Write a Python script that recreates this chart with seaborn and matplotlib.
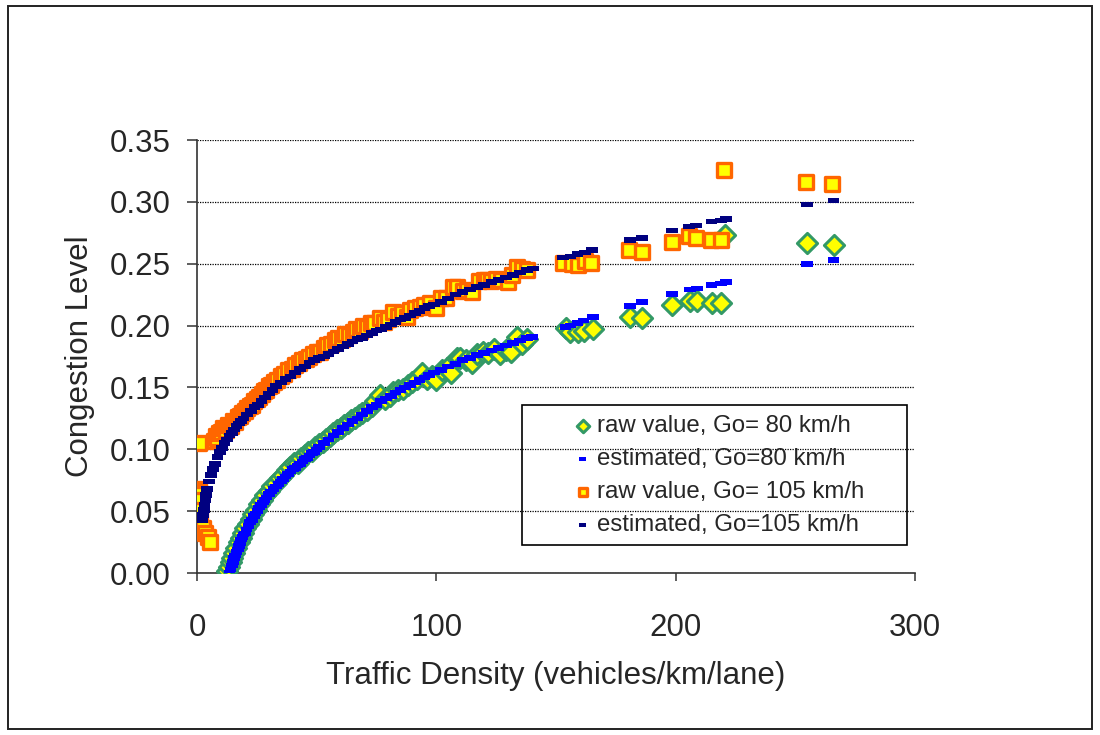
import matplotlib
matplotlib.use("Agg")
import matplotlib.pyplot as plt
from matplotlib.patches import Rectangle
import seaborn as sns

# Go = 80 km/h, raw values
raw80_x = [12.5, 13.2, 14.0, 14.8, 15.6, 16.5, 17.4, 18.3, 19.2, 20.2, 21.3, 22.4,
           23.6, 24.8, 26.0, 27.3, 28.6, 30.0, 31.5, 33.0, 34.5, 36.0, 37.5, 39.0,
           40.5, 42.0, 43.5, 45.0, 46.5, 48.0, 49.5, 51.0, 52.5, 54.0, 55.5, 57.0,
           58.5, 60.0, 61.5, 63.0, 64.5, 66.0, 67.5, 69.0, 71.0, 73.0, 74.5, 76.5,
           78.5, 80.5, 82.0, 84.0, 86.0, 88.0, 90.0, 92.0, 94.0, 96.0, 98.0, 100.0,
           102.5, 104.5, 106.0, 108.5, 110.0, 112.5, 115.0, 117.0, 119.5, 121.6, 124.0,
           126.6, 129.0, 131.0, 133.6, 136.0, 138.0,
           154.0, 156.0, 159.0, 161.5, 165.5, 181.0, 186.0, 198.5, 206.0, 209.0,
           215.0, 219.0, 220.6, 255.0, 266.0]
raw80_y = [0.002, 0.005, 0.009, 0.012, 0.016, 0.020, 0.025, 0.028, 0.032, 0.036, 0.040, 0.044,
           0.048, 0.051, 0.056, 0.059, 0.063, 0.066, 0.070, 0.073, 0.077, 0.079, 0.083, 0.086,
           0.089, 0.089, 0.093, 0.095, 0.098, 0.099, 0.102, 0.104, 0.106, 0.108, 0.111, 0.113,
           0.116, 0.117, 0.120, 0.121, 0.124, 0.125, 0.128, 0.129, 0.132, 0.135, 0.139, 0.144,
           0.141, 0.143, 0.146, 0.148, 0.149, 0.152, 0.154, 0.157, 0.162, 0.157, 0.159, 0.156,
           0.164, 0.166, 0.162, 0.174, 0.174, 0.172, 0.170, 0.177, 0.179, 0.178, 0.181,
           0.177, 0.180, 0.179, 0.191, 0.185, 0.189,
           0.198, 0.195, 0.195, 0.196, 0.197, 0.207, 0.206, 0.2165, 0.220, 0.220,
           0.218, 0.218, 0.273, 0.267, 0.265]

# Go = 80 km/h, estimated
est80_x = [13.5, 14.0, 14.5, 15.0, 15.5, 16.0, 16.5, 17.0, 17.5, 18.0, 18.5, 19.0,
           19.5, 20.0, 20.7, 21.5, 22.2, 23.0, 23.7, 24.5, 25.2, 26.0, 26.7, 27.5,
           28.2, 29.0, 30.0, 31.0, 32.0, 33.0, 34.0, 35.0, 36.0, 37.0, 38.0, 39.0,
           40.0, 41.0, 42.0, 43.0, 44.0, 45.0, 46.0, 47.0, 48.0, 49.0, 50.0, 51.0,
           53.0, 55.0, 57.0, 59.0, 61.0, 63.0, 65.0, 67.0, 69.0, 71.0, 73.0, 75.0,
           77.0, 79.0, 81.0, 83.0, 85.0, 87.0, 89.0, 91.0, 93.0, 95.0, 97.0, 99.0,
           102.0, 105.0, 108.0, 111.0, 114.0, 117.0, 120.0, 123.0, 126.0, 129.0,
           132.0, 135.0, 138.0, 140.0,
           154.0, 156.0, 159.0, 161.5, 165.5, 181.0, 186.0, 198.5, 206.0, 209.0,
           215.0, 219.0, 221.0, 255.0, 266.0]
est80_y = [0.000, 0.003, 0.006, 0.009, 0.012, 0.014, 0.017, 0.019, 0.022, 0.024, 0.027, 0.029,
           0.031, 0.032, 0.035, 0.038, 0.041, 0.043, 0.046, 0.048, 0.050, 0.053, 0.055, 0.057,
           0.059, 0.061, 0.064, 0.066, 0.068, 0.070, 0.072, 0.074, 0.076, 0.078, 0.080, 0.082,
           0.084, 0.085, 0.087, 0.088, 0.090, 0.092, 0.093, 0.095, 0.097, 0.098, 0.100, 0.102,
           0.105, 0.108, 0.111, 0.114, 0.117, 0.120, 0.123, 0.125, 0.128, 0.131, 0.134, 0.136,
           0.139, 0.141, 0.143, 0.146, 0.148, 0.150, 0.152, 0.154, 0.156, 0.158, 0.160, 0.162,
           0.164, 0.167, 0.169, 0.172, 0.174, 0.176, 0.178, 0.180, 0.182, 0.184,
           0.186, 0.188, 0.190, 0.191,
           0.199, 0.200, 0.202, 0.204, 0.207, 0.216, 0.219, 0.2255, 0.229, 0.230,
           0.233, 0.234, 0.235, 0.250, 0.253]

# Go = 105 km/h, raw values
raw105_x = [0.7, 0.4, 1.0, 1.5, 0.8, 1.0, 1.3, 2.5, 3.3, 4.5, 5.6,
            7.0, 7.8, 8.5, 9.3, 10.0, 11.0, 12.0, 13.0, 14.0, 15.0, 16.0, 17.0,
            18.0, 19.0, 20.0, 21.0, 22.0, 23.0, 24.0, 25.0, 26.0, 27.0, 28.0, 29.0,
            30.0, 31.0, 32.0, 33.5, 35.0, 36.5, 38.0, 39.5, 41.0, 42.5, 44.0, 45.5,
            47.0, 48.5, 50.0, 51.5, 53.0, 54.5, 56.0, 57.5, 59.0, 60.5, 62.0, 63.5,
            65.0, 66.5, 68.0, 69.5, 71.0, 72.5, 74.0, 76.5, 78.0, 80.0, 82.0, 84.0,
            85.5, 87.7, 89.0, 91.0, 93.0, 95.0, 97.4, 100.0, 102.0, 104.0, 107.0, 108.5,
            111.0, 113.0, 115.0, 118.0, 120.0, 121.0, 123.0, 125.0, 127.0, 130.0, 131.5,
            133.6, 136.0, 138.0,
            153.0, 156.5, 159.0, 162.0, 164.7, 180.6, 186.0, 198.5, 205.6, 208.5,
            214.8, 219.0, 220.0, 254.6, 265.5]
raw105_y = [0.105, 0.068, 0.066, 0.064, 0.059, 0.051, 0.043, 0.036, 0.032, 0.029, 0.025,
            0.107, 0.111, 0.109, 0.113, 0.114, 0.117, 0.116, 0.120, 0.119, 0.123, 0.122, 0.126,
            0.127, 0.129, 0.131, 0.133, 0.135, 0.136, 0.139, 0.141, 0.142, 0.145, 0.147, 0.148,
            0.151, 0.152, 0.154, 0.156, 0.159, 0.161, 0.164, 0.165, 0.168, 0.170, 0.172, 0.173,
            0.175, 0.177, 0.179, 0.179, 0.182, 0.184, 0.185, 0.188, 0.190, 0.189, 0.193, 0.192,
            0.195, 0.197, 0.196, 0.200, 0.199, 0.202, 0.202, 0.206, 0.203, 0.205, 0.211, 0.208,
            0.210, 0.207, 0.213, 0.214, 0.215, 0.217, 0.218, 0.214, 0.222, 0.222, 0.231, 0.231,
            0.228, 0.229, 0.227, 0.236, 0.237, 0.237, 0.236, 0.238, 0.237, 0.235, 0.241,
            0.247, 0.246, 0.245,
            0.2505, 0.250, 0.249, 0.252, 0.2505, 0.261, 0.2595, 0.2675, 0.2725, 0.271,
            0.269, 0.269, 0.326, 0.316, 0.3145]

# Go = 105 km/h, estimated
est105_x = [2.3, 2.6, 2.9, 3.2, 3.5, 3.8, 4.3, 5.0, 5.8, 6.6, 7.5, 8.5,
            9.5, 10.5, 11.5, 12.5, 13.5, 14.5, 15.5, 16.5, 17.5, 18.5, 19.5, 21.0,
            22.5, 24.0, 25.5, 27.0, 28.5, 30.0, 31.5, 33.0, 35.0, 37.0, 39.0, 41.0,
            43.0, 45.0, 47.0, 49.0, 51.0, 53.0, 55.0, 57.0, 59.0, 61.0, 63.0, 65.0,
            67.0, 69.0, 71.0, 73.0, 75.0, 77.0, 79.0, 81.0, 83.0, 85.0, 87.0, 89.0,
            91.0, 93.0, 95.0, 97.0, 99.0, 102.0, 105.0, 108.0, 111.0, 114.0, 117.0,
            120.0, 123.0, 126.0, 129.0, 132.0, 135.0, 138.0, 140.5,
            153.0, 156.0, 159.0, 162.0, 165.0, 181.0, 186.0, 198.5, 205.6, 208.5,
            215.0, 219.0, 221.0, 255.0, 266.0]
est105_y = [0.043, 0.047, 0.051, 0.055, 0.059, 0.063, 0.068, 0.074, 0.079, 0.084, 0.088, 0.094,
            0.098, 0.101, 0.105, 0.108, 0.111, 0.113, 0.116, 0.119, 0.121, 0.123, 0.125, 0.128,
            0.131, 0.134, 0.136, 0.139, 0.142, 0.145, 0.148, 0.151, 0.154, 0.157, 0.159, 0.162,
            0.165, 0.167, 0.170, 0.172, 0.174, 0.175, 0.177, 0.179, 0.181, 0.183, 0.185, 0.187,
            0.189, 0.190, 0.192, 0.194, 0.196, 0.197, 0.199, 0.201, 0.203, 0.205, 0.206, 0.208,
            0.210, 0.212, 0.214, 0.216, 0.217, 0.219, 0.222, 0.225, 0.227, 0.229, 0.231,
            0.233, 0.235, 0.237, 0.239, 0.241, 0.243, 0.245, 0.246,
            0.255, 0.256, 0.258, 0.259, 0.261, 0.269, 0.271, 0.277, 0.280, 0.281,
            0.284, 0.285, 0.286, 0.298, 0.301]

labels = ["raw value, Go= 80 km/h", "estimated, Go=80 km/h",
          "raw value, Go= 105 km/h", "estimated, Go=105 km/h"]

sns.set_style("ticks")
plt.rcParams["font.family"] = ["Liberation Sans", "DejaVu Sans"]

fig = plt.figure(figsize=(11, 7.35), dpi=100)
ax = fig.add_axes([0.1791, 0.2204, 0.6527, 0.5891])

# short horizontal bar used by Excel for the estimated series
dash = [(-1, -0.48), (1, -0.48), (1, 0.48), (-1, 0.48)]

sns.scatterplot(x=raw80_x, y=raw80_y, marker="D", s=105, color="#FFFF00",
                edgecolor="#339966", linewidth=2.2, ax=ax, label=labels[0], zorder=3)
sns.scatterplot(x=est80_x, y=est80_y, marker=dash, s=70, color="#0000FF",
                edgecolor="none", linewidth=0, ax=ax, label=labels[1], zorder=4)
sns.scatterplot(x=raw105_x, y=raw105_y, marker="s", s=95, color="#FFFF00",
                edgecolor="#FF6600", linewidth=2.4, ax=ax, label=labels[2], zorder=5)
sns.scatterplot(x=est105_x, y=est105_y, marker=dash, s=70, color="#000080",
                edgecolor="none", linewidth=0, ax=ax, label=labels[3], zorder=6)

ax.set_xlim(0, 300)
ax.set_ylim(0, 0.35)
ax.set_xticks([0, 100, 200, 300])
ax.set_yticks([0, 0.05, 0.10, 0.15, 0.20, 0.25, 0.30, 0.35])
ax.set_yticklabels([f"{v:.2f}" for v in ax.get_yticks()])
ax.grid(axis="y", color="black", linestyle=(0, (1, 1)), linewidth=0.9)
ax.set_axisbelow(True)

for side in ["top", "right"]:
    ax.spines[side].set_visible(False)
for side in ["left", "bottom"]:
    ax.spines[side].set_color("#333333")
    ax.spines[side].set_linewidth(1.2)

ax.tick_params(axis="y", direction="out", length=7, width=1.1, color="#333333",
               pad=12, labelsize=22.5)
ax.tick_params(axis="x", direction="out", length=6, width=1.1, color="#333333",
               pad=23, labelsize=22.5)

ax.set_xlabel("Traffic Density (vehicles/km/lane)", fontsize=22.5)
ax.set_ylabel("Congestion Level", fontsize=22.5)
ax.xaxis.set_label_coords(0.5, -0.2035)
ax.yaxis.set_label_coords(-0.142, 0.5)

leg = ax.legend(loc="upper left", bbox_to_anchor=(0.510, 0.4480),
                bbox_transform=fig.transFigure, frameon=False, fontsize=17.3,
                markerscale=0.62, handlelength=1.0, handletextpad=0.08,
                borderpad=0.4, labelspacing=0.46, borderaxespad=0)

fig.patches.append(Rectangle((522 / 1100, 1 - 545 / 735), 385 / 1100, 140 / 735,
                             transform=fig.transFigure, fill=False,
                             edgecolor="black", linewidth=1.2, zorder=10))
fig.patches.append(Rectangle((8 / 1100, 1 - 729 / 735), 1084 / 1100, 723 / 735,
                             transform=fig.transFigure, fill=False,
                             edgecolor="#222222", linewidth=1.4))

fig.savefig("out.png", dpi=100)
